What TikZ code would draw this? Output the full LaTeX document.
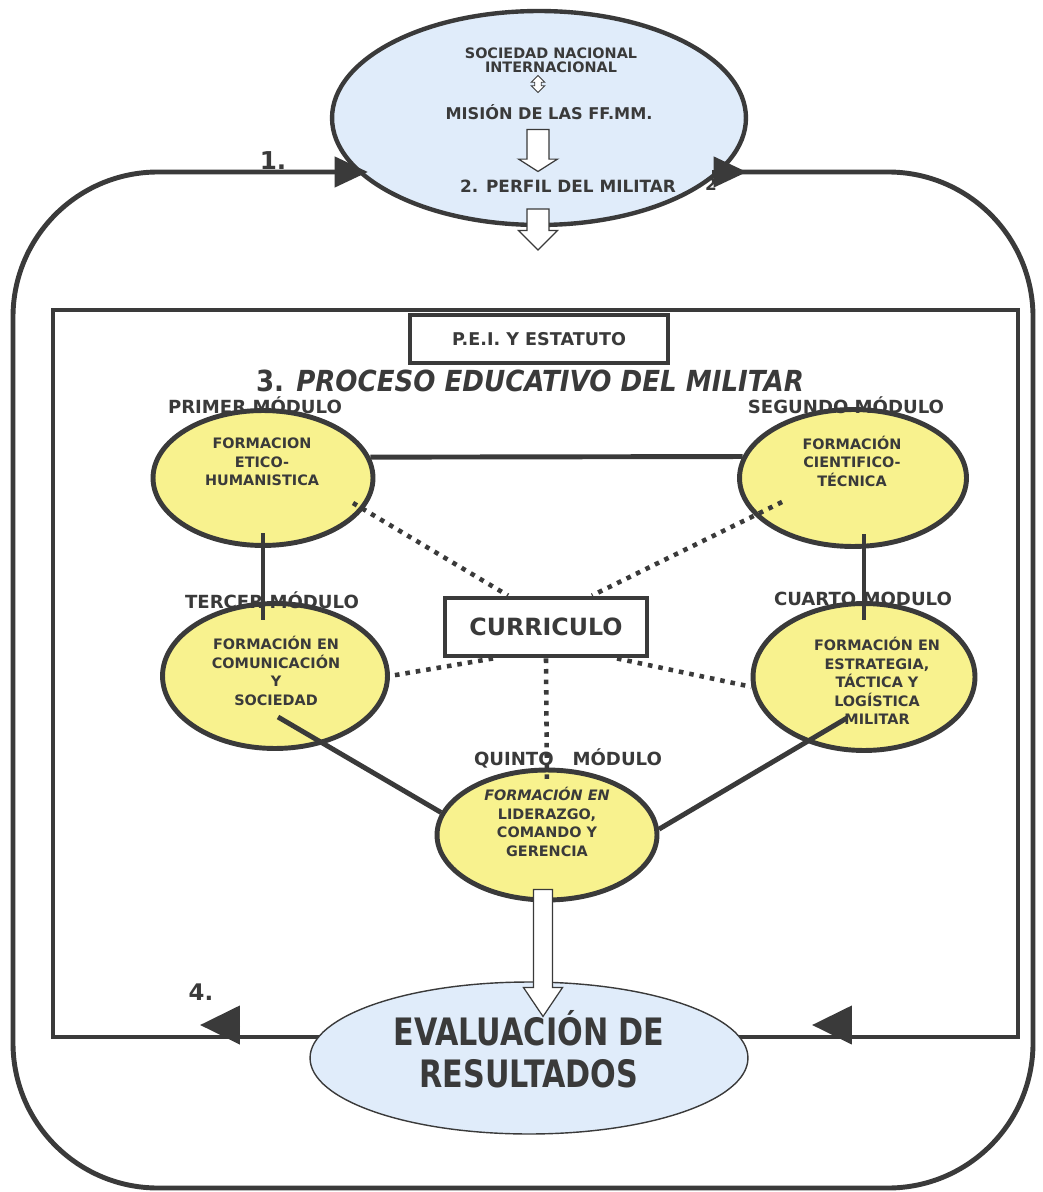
\documentclass[tikz,border=0pt]{standalone}
\usepackage{fontspec}
\setmainfont{DejaVu Sans}
\newfontfamily\narrowfont{DejaVu Sans}[FakeStretch=0.8]
\newfontfamily\titlefont{DejaVu Sans}[FakeStretch=0.9]
\usetikzlibrary{arrows.meta,shapes.geometric,shapes.arrows,calc}
\definecolor{ink}{RGB}{58,58,58}
\definecolor{modfill}{RGB}{248,242,142}
\definecolor{skyfill}{RGB}{224,236,250}
\tikzset{
  loopline/.style={draw=ink, line width=2.8pt},
  modulo/.style={ellipse, draw=ink, line width=2.8pt, fill=modfill, inner sep=0pt},
  modtext/.style={align=center, text=ink, inner sep=0pt, font=\fontsize{8.2}{10.5}\selectfont\bfseries},
  modlabel/.style={text=ink, inner sep=0pt, font=\fontsize{10.3}{12}\selectfont\bfseries},
  link/.style={draw=ink, line width=2.8pt},
  dots/.style={draw=ink, line width=2.6pt, dash pattern=on 2.6pt off 3.4pt},
  hollow/.style={single arrow, draw=ink, fill=white, line width=0.7pt, rotate=-90,
    inner xsep=0pt, single arrow head indent=0pt},
  tipsmall/.style={draw=ink, line width=2.8pt, -{Triangle[length=19pt,width=17pt]}},
  tipbig/.style={draw=ink, line width=2.8pt, -{Triangle[length=22.7pt,width=21.5pt]}}
}
\begin{document}
\begin{tikzpicture}[x=0.02cm, y=-0.02cm]
    \useasboundingbox (0,0) rectangle (1043,1192);
    \draw[loopline, rounded corners=2.9cm] (13,172) rectangle (1033,1188);
    \draw[loopline] (53,310) rectangle (1018,1037);

    \node[ellipse, draw=ink, line width=2.5pt, fill=skyfill, minimum width=8.28cm,
      minimum height=4.28cm] (sociedad) at (539,118) {};
    \node[align=center, text=ink, font=\fontsize{8.2}{8}\selectfont\bfseries] (nacional) at (551,60)
      {SOCIEDAD NACIONAL\\INTERNACIONAL};
    \node[double arrow, draw=ink, fill=white, line width=0.5pt, rotate=90, inner xsep=0pt,
      inner ysep=1.6pt, double arrow head extend=2pt, minimum height=0.34cm] (enlace) at (538,84) {};
    \node[text=ink, font=\fontsize{9.2}{11}\selectfont\bfseries] (mision) at (549,112)
      {MISIÓN DE LAS FF.MM.};
    \node[hollow, inner ysep=5.9pt, single arrow head extend=4.8pt, single arrow tip angle=115,
      minimum height=0.84cm] (flecha1) at (538,147) {};
    \node[text=ink, font=\fontsize{9.6}{11}\selectfont\bfseries] (perfil) at (568,186)
      {2. PERFIL DEL MILITAR};
    \node[hollow, inner ysep=5.9pt, single arrow head extend=4.8pt, single arrow tip angle=90,
      minimum height=0.82cm] (flecha2) at (538,224) {};

    \node[ellipse, draw=ink, line width=0.8pt, fill=skyfill, minimum width=8.76cm,
      minimum height=3.04cm] (evaluacion) at (529,1058) {};
    \node[align=center, text=ink, font=\narrowfont\fontsize{21.5}{24}\selectfont\bfseries] (resultados)
      at (529,1049) {EVALUACIÓN DE\\RESULTADOS};

    \coordinate (p1) at (330,172);
    \coordinate (q1) at (368,172);
    \coordinate (p2) at (712,172);
    \coordinate (q2) at (747,172);
    \coordinate (p4) at (240,1025);
    \coordinate (q4) at (200,1025);
    \coordinate (p5) at (852,1025);
    \coordinate (q5) at (812,1025);
    \draw[tipsmall] (p1) -- (q1);
    \draw[tipsmall] (p2) -- (q2);
    \draw[tipbig] (p4) -- (q4);
    \draw[tipbig] (p5) -- (q5);
    \node[text=ink, font=\fontsize{14}{16}\selectfont\bfseries] (uno) at (273,161) {1.};
    \node[text=ink, font=\fontsize{9.6}{11}\selectfont\bfseries] (dos) at (711,184) {2};
    \node[text=ink, font=\fontsize{13}{16}\selectfont\bfseries] (cuatro) at (201,992) {4.};

    \node[draw=ink, line width=2pt, fill=white, minimum width=5.16cm, minimum height=0.96cm,
      text=ink, font=\fontsize{10}{12}\selectfont\bfseries] (pei) at (539,339) {P.E.I. Y ESTATUTO};
    \node[text=ink, font=\titlefont\fontsize{16.5}{18}\selectfont\bfseries] (proceso) at (530,381)
      {3. \textit{PROCESO EDUCATIVO DEL MILITAR}};

    \node[modulo, minimum width=4.4cm, minimum height=2.7cm] (m1) at (263,478) {};
    \node[modulo, minimum width=4.54cm, minimum height=2.74cm] (m2) at (853,478) {};
    \node[modulo, minimum width=4.5cm, minimum height=2.9cm] (m3) at (275,676) {};
    \node[modulo, minimum width=4.44cm, minimum height=2.94cm] (m4) at (864,677) {};
    \node[modulo, minimum width=4.4cm, minimum height=2.6cm] (m5) at (547,835) {};
    \node[modtext] (t1) at (262,462) {FORMACION\\ETICO-\\HUMANISTICA};
    \node[modtext] (t2) at (852,461) {FORMACIÓN\\CIENTIFICO-\\TÉCNICA};
    \node[modtext] (t3) at (276,671) {FORMACIÓN EN\\COMUNICACIÓN\\Y\\SOCIEDAD};
    \node[modtext] (t4) at (877,681) {FORMACIÓN EN\\ESTRATEGIA,\\TÁCTICA Y\\LOGÍSTICA\\MILITAR};
    \node[modtext] (t5) at (547,822) {\textit{FORMACIÓN EN}\\LIDERAZGO,\\COMANDO Y\\GERENCIA};
    \node[modlabel] (l1) at (255,405) {PRIMER MÓDULO};
    \node[modlabel] (l2) at (846,405) {SEGUNDO MÓDULO};
    \node[modlabel] (l3) at (272,600) {TERCER MÓDULO};
    \node[modlabel] (l4) at (863,599) {CUARTO MODULO};
    \node[modlabel] (l5) at (568,758) {QUINTO~~~MÓDULO};

    \node[draw=ink, line width=2.8pt, fill=white, minimum width=4.04cm, minimum height=1.16cm,
      text=ink, font=\fontsize{13.5}{16}\selectfont\bfseries] (curriculo) at (546,627) {CURRICULO};

    \draw[link] (m1.11) -- (m2.169);
    \draw[link, shorten <=-8.5pt, shorten >=-10.8pt] (m1.south) -- (m1.south |- m3.north);
    \draw[link, shorten <=-8.5pt, shorten >=-10.8pt] (m4.north |- m2.south) -- (m4.north);
    \draw[link] ($(m3.center)+(3,41)$) -- (m5.168);
    \draw[link] ($(m4.center)+(-17,41)$) -- (m5.3);
    \draw[dots] ($(m1.center)+(90,25)$) -- ($(curriculo.north)+(-38,0)$);
    \draw[dots] ($(m2.center)+(-71,24)$) -- ($(curriculo.north)+(46,0)$);
    \draw[dots] ($(curriculo.south)+(-53,0)$) -- (m3.east);
    \draw[dots] ($(curriculo.south)+(71,0)$) -- (m4.185);
    \draw[dots] (curriculo.south) -- ($(m5.north)+(0,17)$);

    \node[hollow, inner ysep=5pt, single arrow head extend=5.8pt, single arrow tip angle=68,
      minimum height=2.54cm] (flecha3) at (543,946) {};
\end{tikzpicture}
\end{document}
